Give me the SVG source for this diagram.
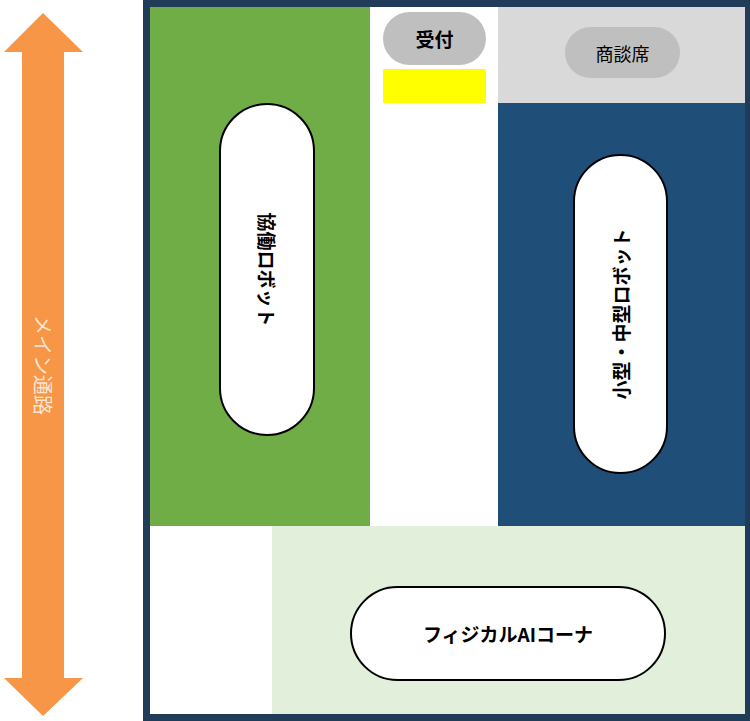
<svg xmlns="http://www.w3.org/2000/svg" width="750" height="721" viewBox="0 0 750 721">
<style>
.pill{fill:#fff;stroke:#000;stroke-width:2}
.t{font-family:"Noto Sans CJK JP","Noto Sans",sans-serif;font-weight:bold;font-size:19px;text-anchor:middle;dominant-baseline:central;fill:#000}
</style>
<rect width="750" height="721" fill="#fff"/>
<g id="arrow"><polygon points="43,13 83,52 64,52 64,678 83,678 43,716 4,678 22,678 22,52 4,52" fill="#f79646"/>
<text class="t" x="43" y="365" transform="rotate(90 43 365)" style="fill:#fbe5d6;font-weight:normal;font-size:20px">メイン通路</text></g>
<g id="frame"><rect x="146.5" y="3.5" width="600" height="714" fill="#fff" stroke="#203c58" stroke-width="7"/>
<rect x="150" y="7" width="220" height="519" fill="#70ad47"/>
<rect x="498" y="7" width="247" height="96" fill="#d9d9d9"/>
<rect x="498" y="103" width="247" height="423" fill="#1f4e79"/>
<rect x="272" y="526" width="473" height="188" fill="#e2efda"/>
<rect x="383" y="69" width="103" height="34" fill="#ffff00"/></g>
<g id="reception"><rect x="383" y="12" width="103" height="53" rx="26.5" fill="#bfbfbf"/><text class="t" x="434.5" y="38.5">受付</text></g>
<g id="meeting"><rect x="565" y="27" width="115" height="51" rx="25.5" fill="#bfbfbf"/><text class="t" x="622.5" y="52.5" style="font-weight:normal;font-size:18px">商談席</text></g>
<g id="cobot"><rect class="pill" x="220" y="104" width="94" height="331" rx="47"/><text class="t" x="267" y="269.5" transform="rotate(90 267 269.5)">協働ロボット</text></g>
<g id="small"><rect class="pill" x="574" y="155" width="93" height="318" rx="46.5"/><text class="t" x="620.5" y="314" transform="rotate(-90 620.5 314)">小型・中型ロボット</text></g>
<g id="physical"><rect class="pill" x="351" y="587" width="314" height="93" rx="46.5"/><text class="t" x="508" y="633.5">フィジカルAIコーナ</text></g>
<g id="connectors"/>
</svg>
